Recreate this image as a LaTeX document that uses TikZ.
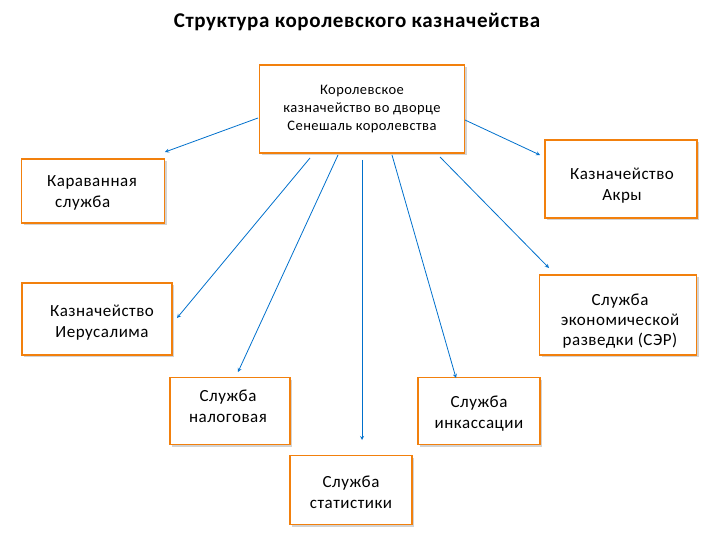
\documentclass[tikz,border=0pt]{standalone}
\usepackage{fontspec}
\setmainfont{Carlito}[LetterSpace=3]
\usetikzlibrary{shadows}
\begin{document}
\begin{tikzpicture}[x=1pt,y=-1pt,
 bx/.style={draw=orange!80!brown,line width=1.3pt,fill=white,drop shadow={opacity=0.35,shadow xshift=2pt,shadow yshift=-2pt},align=center,inner sep=0pt},
 tx/.style={font=\fontsize{17}{21}\selectfont,align=center},
 ar/.style={draw=blue!45!cyan!80!black,line width=0.8pt,-stealth}]
\useasboundingbox (0,0) rectangle (720,540);
\node[font=\bfseries\fontsize{21}{24}\selectfont] (t) at (357,22) {Структура королевского казначейства};
\node[bx,minimum width=205,minimum height=88,font=\fontsize{14.5}{18}\selectfont] (top) at (362,109) {Королевское\\казначейство во дворце\\Сенешаль королевства};
\node[bx,minimum width=143,minimum height=64] (kar) at (93,191) {};
\node[tx,align=left] at (92,193) {Караванная\\\hspace*{8pt}служба};
\node[bx,minimum width=152,minimum height=78] (akr) at (621,179) {};
\node[tx] at (622,186) {Казначейство\\Акры};
\node[bx,minimum width=150,minimum height=72] (ier) at (97,319) {};
\node[tx] at (102,323) {Казначейство\\Иерусалима};
\node[bx,minimum width=157,minimum height=80] (ser) at (618,315) {};
\node[tx,font=\fontsize{17}{20}\selectfont] at (620,321) {Служба\\экономической\\разведки (СЭР)};
\node[bx,minimum width=120,minimum height=67] (nal) at (230,411) {};
\node[tx] at (228,406) {Служба\\налоговая};
\node[bx,minimum width=122,minimum height=67] (ink) at (479,411) {};
\node[tx] at (479,414) {Служба\\инкассации};
\node[bx,minimum width=122,minimum height=69] (sta) at (351,490) {};
\node[tx] at (351,492) {Служба\\статистики};
\coordinate (a1s) at (258,118); \coordinate (a1e) at (165,152);
\coordinate (a2s) at (465,120); \coordinate (a2e) at (540,155);
\coordinate (a3s) at (310,158); \coordinate (a3e) at (177,318);
\coordinate (a4s) at (338,155); \coordinate (a4e) at (238,372);
\coordinate (a5s) at (362,160); \coordinate (a5e) at (362,440);
\coordinate (a6s) at (392,155); \coordinate (a6e) at (456,378);
\coordinate (a7s) at (440,157); \coordinate (a7e) at (549,268);
\foreach \i in {1,...,7}{\draw[ar] (a\i s) -- (a\i e);}
\end{tikzpicture}
\end{document}
